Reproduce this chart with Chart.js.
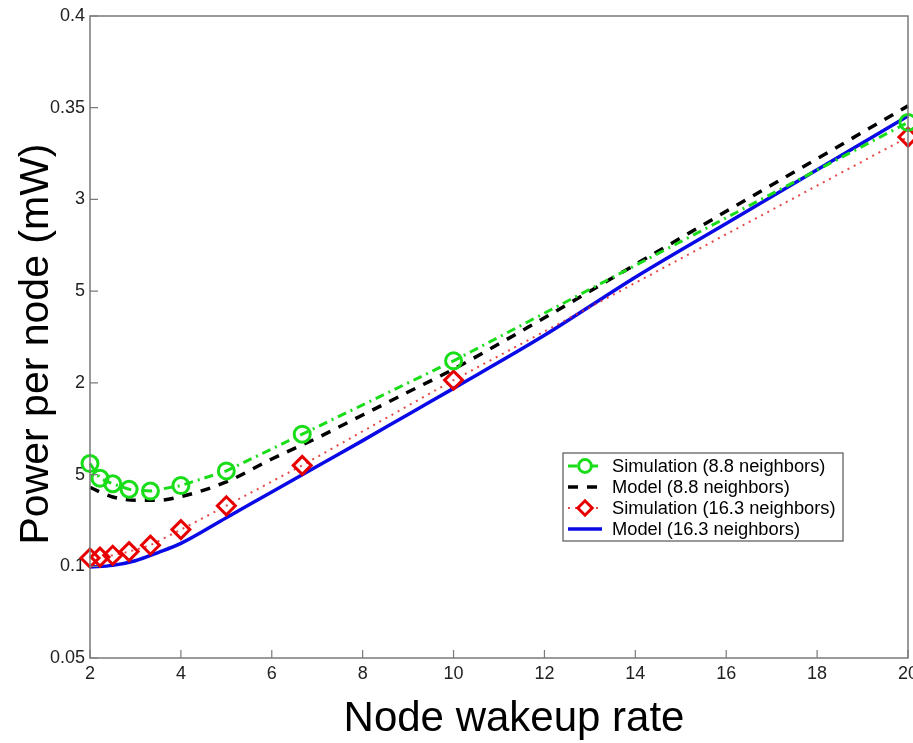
<!DOCTYPE html>
<html>
<head>
<meta charset="utf-8">
<script src="https://cdn.jsdelivr.net/npm/chart.js@4.4.1/dist/chart.umd.min.js"></script>
<style>
  html, body { margin: 0; padding: 0; background: #fff; overflow: hidden; }
  #wrap { width: 913px; height: 743px; position: relative; overflow: hidden; }
  #c { position: absolute; left: 0; top: 0; }
</style>
</head>
<body>
<div id="wrap"><canvas id="c" width="923" height="743"></canvas></div>
<script>
// ---- data ----
const rates = [2, 2.22, 2.5, 2.86, 3.33, 4, 5, 6.67, 10, 20];
const sim88 = [0.156, 0.148, 0.145, 0.142, 0.141, 0.144, 0.152, 0.172, 0.212, 0.342];
const sim163 = [0.1045, 0.105, 0.106, 0.108, 0.1115, 0.120, 0.133, 0.155, 0.2015, 0.334];
const modelRates = [2, 2.5, 3, 3.5, 4, 5, 6, 7, 8, 9, 10, 12, 14, 16, 18, 20];
const model88 = [0.143, 0.1378, 0.136, 0.136, 0.138, 0.146, 0.1585, 0.170, 0.1825, 0.195, 0.2075, 0.2355, 0.2645, 0.2935, 0.3222, 0.351];
const model163 = [0.0996, 0.1005, 0.103, 0.1075, 0.1125, 0.1265, 0.1405, 0.1545, 0.1685, 0.1828, 0.197, 0.2259, 0.2576, 0.2869, 0.3162, 0.3455];
const seriesNames = ['Simulation (8.8 neighbors)', 'Model (8.8 neighbors)', 'Simulation (16.3 neighbors)', 'Model (16.3 neighbors)'];
const yTickLabels = ['0.05', '0.1', '5', '2', '5', '3', '0.35', '0.4'];
const xTitle = 'Node wakeup rate';
const yTitle = 'Power per node (mW)';

const toXY = (xs, ys) => xs.map((x, i) => ({ x: x, y: ys[i] }));
const FONT = '"Liberation Sans", Arial, Helvetica, sans-serif';
const AXIS_GRAY = '#7a7a7a';

const datasets = [
  { label: seriesNames[0], data: toXY(rates, sim88), borderColor: '#19dd19', borderWidth: 3,
    borderDash: [9, 5, 2, 5], pointStyle: 'circle', pointRadius: 8, pointBorderWidth: 3,
    pointBorderColor: '#19dd19', pointBackgroundColor: 'rgba(0,0,0,0)', clip: false, tension: 0 },
  { label: seriesNames[1], data: toXY(modelRates, model88), borderColor: '#000000', borderWidth: 3.5,
    borderDash: [10, 9], pointRadius: 0, cubicInterpolationMode: 'monotone', clip: false },
  { label: seriesNames[2], data: toXY(rates, sim163), borderColor: 'rgba(225,40,40,0.85)', borderWidth: 2,
    borderDash: [2, 5], pointStyle: 'rectRot', pointRadius: 9, pointBorderWidth: 3,
    pointBorderColor: '#e80000', pointBackgroundColor: 'rgba(0,0,0,0)', clip: false, tension: 0 },
  { label: seriesNames[3], data: toXY(modelRates, model163), borderColor: '#0a0ae6', borderWidth: 3.5,
    pointRadius: 0, cubicInterpolationMode: 'monotone', clip: false }
];

const frameAndTicks = {
  id: 'frameAndTicks',
  afterDatasetsDraw(chart) {
    const ctx = chart.ctx, a = chart.chartArea;
    const xs = chart.scales.x, ys = chart.scales.y;
    ctx.save();
    ctx.strokeStyle = AXIS_GRAY;
    ctx.lineWidth = 1.5;
    ctx.strokeRect(a.left, a.top, a.right - a.left, a.bottom - a.top);
    ctx.lineWidth = 1.2;
    ctx.beginPath();
    xs.ticks.forEach(t => {
      const px = xs.getPixelForValue(t.value);
      ctx.moveTo(px, a.bottom); ctx.lineTo(px, a.bottom - 8);
    });
    ys.ticks.forEach(t => {
      const py = ys.getPixelForValue(t.value);
      ctx.moveTo(a.left, py); ctx.lineTo(a.left + 8, py);
    });
    ctx.stroke();
    ctx.restore();
  }
};

const axisTitles = {
  id: 'axisTitles',
  afterDraw(chart) {
    const ctx = chart.ctx;
    ctx.save();
    ctx.fillStyle = '#000';
    ctx.textAlign = 'center';
    ctx.textBaseline = 'middle';
    ctx.font = '42px ' + FONT;
    ctx.fillText(xTitle, 514, 719);
    ctx.translate(37, 344);
    ctx.rotate(-Math.PI / 2);
    ctx.font = '41px ' + FONT;
    ctx.fillText(yTitle, 0, 0);
    ctx.restore();
  }
};

const boxLegend = {
  id: 'boxLegend',
  afterDraw(chart) {
    const ctx = chart.ctx;
    const bx = 563, by = 453, bw = 280, bh = 88;
    ctx.save();
    ctx.fillStyle = '#fff';
    ctx.fillRect(bx, by, bw, bh);
    ctx.strokeStyle = '#555';
    ctx.lineWidth = 1.2;
    ctx.strokeRect(bx, by, bw, bh);
    chart.data.datasets.forEach((ds, i) => {
      const y = by + 13 + i * 21;
      ctx.save();
      ctx.strokeStyle = ds.borderColor;
      ctx.lineWidth = ds.borderWidth;
      ctx.setLineDash(ds.borderDash || []);
      ctx.beginPath(); ctx.moveTo(568, y); ctx.lineTo(602, y); ctx.stroke();
      ctx.restore();
      if (ds.pointRadius > 0) {
        ctx.save();
        ctx.lineWidth = ds.pointBorderWidth;
        ctx.strokeStyle = ds.pointBorderColor;
        ctx.fillStyle = '#fff';
        Chart.helpers.drawPoint(ctx, { pointStyle: ds.pointStyle, radius: ds.pointRadius * 0.8, borderWidth: ds.pointBorderWidth, rotation: 0 }, 585, y);
        ctx.restore();
      }
      ctx.fillStyle = '#000';
      ctx.font = '18.3px ' + FONT;
      ctx.textBaseline = 'middle';
      ctx.textAlign = 'left';
      ctx.fillText(ds.label, 612, y + 1);
    });
    ctx.restore();
  }
};

new Chart(document.getElementById('c'), {
  type: 'line',
  data: { datasets: datasets },
  options: {
    responsive: false,
    animation: false,
    events: [],
    layout: { padding: { left: 0, right: 0, top: 16, bottom: 0 } },
    plugins: { legend: { display: false }, tooltip: { enabled: false } },
    scales: {
      x: {
        type: 'linear', min: 2, max: 20,
        grid: { display: false, drawTicks: false },
        border: { display: false },
        ticks: { stepSize: 2, color: '#222', font: { family: FONT, size: 18 }, padding: 5, maxRotation: 0 },
        title: { display: false },
        afterFit(s) { s.height = 85; }
      },
      y: {
        type: 'linear', min: 0.05, max: 0.4,
        grid: { display: false, drawTicks: false },
        border: { display: false },
        ticks: { stepSize: 0.05, color: '#222', font: { family: FONT, size: 18 }, padding: 5,
          callback: (v, i) => yTickLabels[i] },
        title: { display: false },
        afterFit(s) { s.width = 90; s.paddingTop = 0; s.paddingBottom = 0; }
      }
    }
  },
  plugins: [frameAndTicks, axisTitles, boxLegend]
});
</script>
</body>
</html>
